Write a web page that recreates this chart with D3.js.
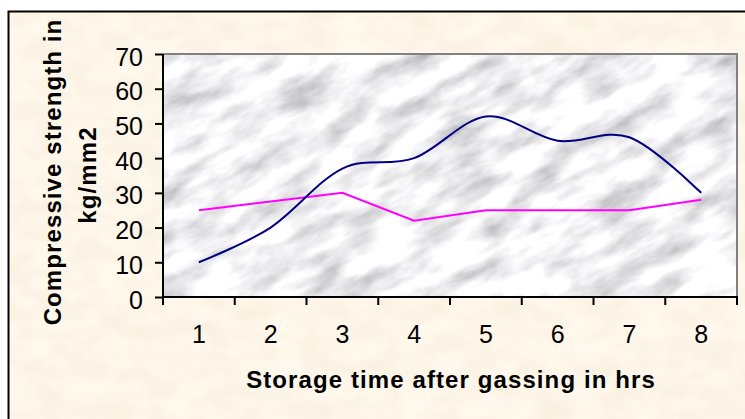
<!DOCTYPE html>
<html>
<head>
<meta charset="utf-8">
<script src="https://cdn.jsdelivr.net/npm/d3@7"></script>
<style>
  body { margin: 0; background: #fff; }
  svg { display: block; }
  text { font-family: "Liberation Sans", Arial, sans-serif; fill: #000; }
</style>
</head>
<body>
<svg width="745" height="419"></svg>
<script>
// storage time categories (hrs)
var hours = ["1", "2", "3", "4", "5", "6", "7", "8"];
// compressive strength, kg/mm2
var blueSeries = [10, 20, 37, 40, 52, 45, 46, 30];
var pinkSeries = [25, 27.5, 30, 22, 25, 25, 25, 28];
var yTicks = [0, 10, 20, 30, 40, 50, 60, 70];

function main() {
    var svg = d3.select("svg");
    var plot = { left: 163, top: 54, right: 737, bottom: 297 };

    var defs = svg.append("defs");

    // parchment texture for the chart area
    var paper = defs.append("filter").attr("id", "paper")
        .attr("x", 0).attr("y", 0).attr("width", "100%").attr("height", "100%");
    paper.append("feTurbulence")
        .attr("type", "fractalNoise")
        .attr("baseFrequency", "0.03 0.05")
        .attr("numOctaves", 3)
        .attr("seed", 7);
    paper.append("feColorMatrix")
        .attr("type", "matrix")
        .attr("values", "0.10 0 0 0 0.93  0.10 0 0 0 0.87  0.14 0 0 0 0.74  0 0 0 0 1");

    // marble texture for the plot area
    var marble = defs.append("filter").attr("id", "marble")
        .attr("filterUnits", "userSpaceOnUse")
        .attr("x", -400).attr("y", -400).attr("width", 1600).attr("height", 1200);
    marble.append("feTurbulence")
        .attr("type", "fractalNoise")
        .attr("baseFrequency", "0.018 0.045")
        .attr("numOctaves", 5)
        .attr("seed", 11);
    marble.append("feColorMatrix")
        .attr("type", "matrix")
        .attr("values", "1.05 0 0 0 0.36  1.05 0 0 0 0.36  1.05 0 0 0 0.375  0 0 0 0 1");

    defs.append("clipPath").attr("id", "plotClip")
        .append("rect")
        .attr("x", plot.left).attr("y", plot.top)
        .attr("width", plot.right - plot.left)
        .attr("height", plot.bottom - plot.top);

    // chart area
    svg.append("rect")
       .attr("x", 8.5).attr("y", 11.5)
       .attr("width", 760).attr("height", 430)
       .attr("fill", "#f9ebcd")
       .attr("filter", "url(#paper)");
    svg.append("rect")
       .attr("x", 8.5).attr("y", 11.5)
       .attr("width", 760).attr("height", 430)
       .attr("fill", "none")
       .attr("stroke", "#000")
       .attr("stroke-width", 2);

    // plot area background
    svg.append("g")
       .attr("clip-path", "url(#plotClip)")
       .append("g")
       .attr("transform", "rotate(-28, 450, 175)")
       .append("rect")
       .attr("x", -100).attr("y", -300)
       .attr("width", 1100).attr("height", 900)
       .attr("fill", "#e5e5e7")
       .attr("filter", "url(#marble)");

    svg.append("path")
       .attr("d", "M" + plot.left + "," + plot.top + "H" + plot.right + "V" + plot.bottom)
       .attr("fill", "none")
       .attr("stroke", "#808080")
       .attr("stroke-width", 2);

    var xScale = d3.scaleBand()
                   .domain(hours)
                   .range([plot.left, plot.right]);
    var yScale = d3.scaleLinear()
                   .domain([0, 70])
                   .range([plot.bottom, plot.top]);

    // y axis
    var yAxis = svg.append("g")
       .attr("transform", "translate(" + plot.left + ",0)")
       .call(d3.axisLeft(yScale).tickValues(yTicks).tickSize(8).tickPadding(12));
    yAxis.select(".domain").attr("stroke", "#000").attr("stroke-width", 2)
         .attr("d", "M0," + plot.top + "V" + plot.bottom);
    yAxis.selectAll(".tick line").attr("stroke", "#000").attr("stroke-width", 2);
    yAxis.selectAll(".tick text")
         .attr("font-size", "25px")
         .attr("font-family", "'Liberation Sans', Arial, sans-serif")
         .attr("dy", "0.44em");

    // x axis: labels at category centres, ticks on category boundaries
    var xAxis = svg.append("g")
       .attr("transform", "translate(0," + plot.bottom + ")")
       .call(d3.axisBottom(xScale).tickSize(0).tickPadding(28));
    xAxis.select(".domain").remove();
    xAxis.selectAll(".tick text")
         .attr("font-size", "25px")
         .attr("font-family", "'Liberation Sans', Arial, sans-serif");

    var bounds = hours.map(function(d) { return xScale(d); });
    bounds.push(xScale(hours[hours.length - 1]) + xScale.step());
    svg.append("g").selectAll("line")
       .data(bounds)
       .enter().append("line")
       .attr("x1", function(d) { return d; })
       .attr("x2", function(d) { return d; })
       .attr("y1", plot.bottom)
       .attr("y2", plot.bottom + 8)
       .attr("stroke", "#000")
       .attr("stroke-width", 2);
    svg.append("line")
       .attr("x1", plot.left - 1).attr("x2", plot.right + 1)
       .attr("y1", plot.bottom).attr("y2", plot.bottom)
       .attr("stroke", "#000")
       .attr("stroke-width", 2);

    // series
    var cx = function(d, i) { return xScale(hours[i]) + xScale.bandwidth() / 2; };

    svg.append("path")
       .datum(pinkSeries)
       .attr("fill", "none")
       .attr("stroke", "#ff00ff")
       .attr("stroke-width", 2)
       .attr("d", d3.line().x(cx).y(function(d) { return yScale(d); }));

    svg.append("path")
       .datum(blueSeries)
       .attr("fill", "none")
       .attr("stroke", "#000080")
       .attr("stroke-width", 2)
       .attr("d", d3.line().x(cx).y(function(d) { return yScale(d); })
                    .curve(d3.curveCardinal.tension(0)));

    // axis titles
    svg.append("text")
       .attr("x", (plot.left + plot.right) / 2 + 1)
       .attr("y", 388)
       .attr("text-anchor", "middle")
       .attr("font-size", "24px")
       .attr("font-weight", "bold")
       .attr("letter-spacing", "1.1px")
       .text("Storage time after gassing in hrs");

    svg.append("text")
       .attr("transform", "translate(61,172) rotate(-90)")
       .attr("text-anchor", "middle")
       .attr("font-size", "24px")
       .attr("font-weight", "bold")
       .attr("letter-spacing", "1.1px")
       .text("Compressive strength in");

    svg.append("text")
       .attr("transform", "translate(96,175) rotate(-90)")
       .attr("text-anchor", "middle")
       .attr("font-size", "24px")
       .attr("font-weight", "bold")
       .attr("letter-spacing", "1.1px")
       .text("kg/mm2");
}
main();
</script>
</body>
</html>
